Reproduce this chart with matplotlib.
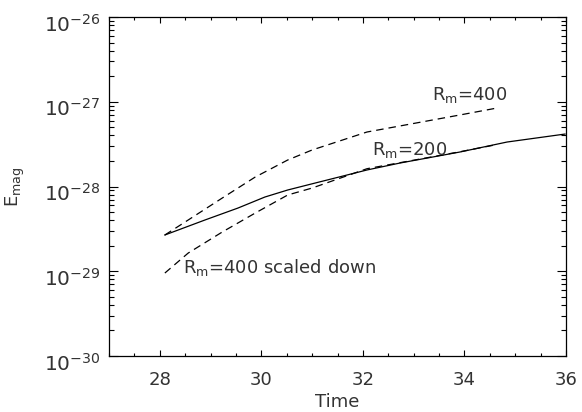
import matplotlib
matplotlib.use("Agg")
import matplotlib.pyplot as plt
import matplotlib.ticker as ticker
import matplotlib.transforms as mtransforms
import numpy as np

plt.rcParams['font.family'] = ['DejaVu Sans']
plt.rcParams['mathtext.fontset'] = 'custom'
plt.rcParams['mathtext.rm'] = 'DejaVu Sans'
plt.rcParams['mathtext.it'] = 'DejaVu Sans'
plt.rcParams['text.color'] = '#333333'
plt.rcParams['xtick.labelcolor'] = '#333333'
plt.rcParams['ytick.labelcolor'] = '#333333'
plt.rcParams['axes.labelcolor'] = '#333333'

# Rm=200 run (solid)
t_200 = [28.10, 28.89, 29.54, 30.07, 30.52, 31.06, 32.08, 32.73, 33.91, 34.84, 35.98]
logE_200 = [-28.572, -28.395, -28.254, -28.124, -28.041, -27.959, -27.805, -27.723, -27.593, -27.475, -27.381]

# Rm=400 run (dashed)
t_400 = [28.10, 28.56, 29.23, 29.88, 30.52, 31.00, 32.08, 33.91, 34.64]
logE_400 = [-28.572, -28.395, -28.136, -27.888, -27.687, -27.569, -27.357, -27.156, -27.074]

# Rm=400 scaled down (dashed)
t_400s = [28.10, 28.56, 29.23, 29.88, 30.52, 31.00, 32.08, 33.91, 34.64]
logE_400s = [-29.021, -28.785, -28.537, -28.313, -28.100, -28.018, -27.790, -27.590, -27.505]

E_200 = 10.0 ** np.array(logE_200)
E_400 = 10.0 ** np.array(logE_400)
E_400s = 10.0 ** np.array(logE_400s)

fig = plt.figure(figsize=(5.82, 4.12), dpi=100)
ax = fig.add_axes([0.1873, 0.1359, 0.9725 - 0.1873, 0.9587 - 0.1359])

ax.plot(t_200, E_200, color='black', lw=0.9)
ax.plot(t_400, E_400, color='black', lw=0.9, linestyle=(0, (6, 4)))
ax.plot(t_400s, E_400s, color='black', lw=0.9, linestyle=(0, (6, 4)))

ax.set_yscale('log')
ax.set_xlim(27, 36)
ax.set_ylim(1e-30, 1e-26)

ax.xaxis.set_major_locator(ticker.MultipleLocator(2))
ax.xaxis.set_minor_locator(ticker.MultipleLocator(0.5))
ax.yaxis.set_major_locator(ticker.FixedLocator([1e-30, 1e-29, 1e-28, 1e-27, 1e-26]))
ax.yaxis.set_minor_locator(ticker.LogLocator(base=10, subs=np.arange(2, 10), numticks=20))
ax.yaxis.set_minor_formatter(ticker.NullFormatter())
ax.yaxis.set_major_formatter(
    ticker.FuncFormatter(lambda v, p: r'$10^{%d}$' % int(round(np.log10(v)))))

ax.tick_params(axis='x', which='major', direction='in', length=4.5, width=0.8,
               top=True, pad=11, labelsize=13)
ax.tick_params(axis='x', which='minor', direction='in', length=2.2, width=0.8, top=True)
ax.tick_params(axis='y', which='major', direction='in', length=6.5, width=0.8,
               right=True, pad=6, labelsize=14.5)
ax.tick_params(axis='y', which='minor', direction='in', length=3.6, width=0.8, right=True)

# IDL puts the exponent labels a little below the tick
shift = mtransforms.ScaledTranslation(0, -4 / 72, fig.dpi_scale_trans)
for tk in ax.yaxis.get_major_ticks():
    tk.label1.set_transform(tk.label1.get_transform() + shift)

for s in ax.spines.values():
    s.set_linewidth(0.9)

ax.set_xlabel('Time', fontsize=13, labelpad=2.5)
ax.set_ylabel(r'E$_\mathrm{mag}$', fontsize=13, labelpad=12)

ax.text(33.36, 10 ** -26.92, r'R$_\mathrm{m}$=400', fontsize=13, ha='left', va='center')
ax.text(32.18, 10 ** -27.57, r'R$_\mathrm{m}$=200', fontsize=13, ha='left', va='center')
ax.text(28.46, 10 ** -28.96, r'R$_\mathrm{m}$=400 scaled down', fontsize=13, ha='left', va='center')

fig.savefig('out.png', dpi=100)
